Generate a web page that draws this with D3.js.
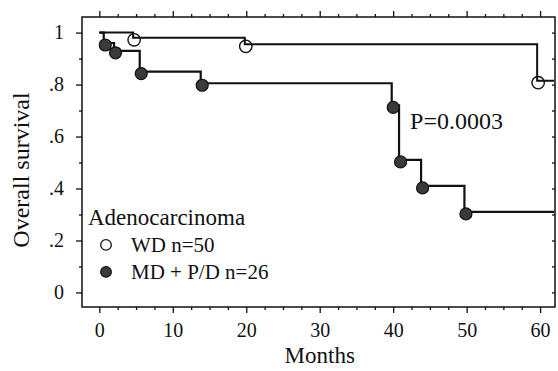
<!DOCTYPE html>
<html>
<head>
<meta charset="utf-8">
<script src="https://cdn.jsdelivr.net/npm/d3@7"></script>
<style>
  body { margin: 0; background: #fff; }
  svg { display: block; font-family: "Liberation Serif", "Times New Roman", serif; }
</style>
</head>
<body>
<script>
"use strict";

// Kaplan-Meier steps
const wdTimes = [0, 4.6, 19.8, 59.6, 61.9];
const wdSurv = [1, 0.98, 0.955, 0.815, 0.815];
const wdEvents = [4.6, 19.8, 59.6];

const mdTimes = [0, 0.6, 2, 5.5, 13.8, 39.8, 40.8, 43.8, 49.7, 61.9];
const mdSurv = [1, 0.96, 0.93, 0.85, 0.805, 0.72, 0.51, 0.41, 0.31, 0.31];
const mdEvents = [0.6, 2, 5.5, 13.8, 39.8, 40.8, 43.8, 49.7];

const xTicks = [0, 10, 20, 30, 40, 50, 60];
const yTicks = [0, 0.2, 0.4, 0.6, 0.8, 1];
const yTickLabels = ["0", ".2", ".4", ".6", ".8", "1"];

const legendTitle = "Adenocarcinoma";
const legendLabels = ["WD n=50", "MD + P/D n=26"];
const pText = "P=0.0003";

const width = 558, height = 371;
const margin = { top: 17, right: 3, bottom: 64, left: 82 };
const innerW = width - margin.left - margin.right;
const innerH = height - margin.top - margin.bottom;

const svg = d3.select("body").append("svg")
  .attr("width", width)
  .attr("height", height);

const g = svg.append("g")
  .attr("transform", `translate(${margin.left},${margin.top})`);

const x = d3.scaleLinear().domain([-2.36, 62.03]).range([0, innerW]);
const y = d3.scaleLinear().domain([-0.056, 1.06]).range([innerH, 0]);

const minorX = d3.range(0, 62.5, 2.5).filter(v => v % 10 !== 0);
const minorY = d3.range(0.1, 1.01, 0.2);

// frame
g.append("rect")
  .attr("width", innerW)
  .attr("height", innerH)
  .attr("fill", "none")
  .attr("stroke", "#111")
  .attr("stroke-width", 1.5);

function styleAxis(sel) {
  sel.select(".domain").remove();
  sel.selectAll("line").attr("stroke", "#111").attr("stroke-width", 1.3);
  sel.selectAll("text")
    .attr("fill", "#111")
    .style("font-size", "20px")
    .style("font-family", "'Liberation Serif', serif");
}

// bottom
g.append("g")
  .attr("transform", `translate(0,${innerH})`)
  .call(d3.axisBottom(x).tickValues(xTicks).tickSize(6).tickPadding(10).tickFormat(d3.format("d")))
  .call(styleAxis);
g.append("g")
  .attr("transform", `translate(0,${innerH})`)
  .call(d3.axisBottom(x).tickValues(minorX).tickSize(3).tickFormat(""))
  .call(styleAxis);

// top
g.append("g")
  .call(d3.axisTop(x).tickValues(xTicks).tickSize(6).tickFormat(""))
  .call(styleAxis);
g.append("g")
  .call(d3.axisTop(x).tickValues(minorX).tickSize(3).tickFormat(""))
  .call(styleAxis);

// left
g.append("g")
  .call(d3.axisLeft(y).tickValues(yTicks).tickSize(6).tickPadding(12)
    .tickFormat((d, i) => yTickLabels[i]))
  .call(styleAxis);
g.append("g")
  .call(d3.axisLeft(y).tickValues(minorY).tickSize(3).tickFormat(""))
  .call(styleAxis);

// right
g.append("g")
  .attr("transform", `translate(${innerW},0)`)
  .call(d3.axisLeft(y).tickValues(yTicks.concat(minorY)).tickSize(3).tickFormat(""))
  .call(styleAxis);

// curves
const line = d3.line()
  .x(d => x(d[0]))
  .y(d => y(d[1]))
  .curve(d3.curveStepAfter);

const wdData = wdTimes.map((t, i) => [t, wdSurv[i]]);
const mdData = mdTimes.map((t, i) => [t, mdSurv[i]]);

g.append("path")
  .datum(wdData)
  .attr("d", line)
  .attr("fill", "none")
  .attr("stroke", "#111")
  .attr("stroke-width", 2);

g.append("path")
  .datum(mdData)
  .attr("d", line)
  .attr("fill", "none")
  .attr("stroke", "#111")
  .attr("stroke-width", 2.2);

const survAt = (times, surv, t) => surv[d3.bisectRight(times, t) - 1];

g.append("g")
  .attr("transform", "translate(1.5,2)")
  .selectAll("circle")
  .data(mdEvents)
  .join("circle")
  .attr("cx", d => x(d))
  .attr("cy", d => y(survAt(mdTimes, mdSurv, d)))
  .attr("r", 6)
  .attr("fill", "#3a3a3a")
  .attr("stroke", "#111")
  .attr("stroke-width", 1.2);

g.append("g")
  .attr("transform", "translate(1,2)")
  .selectAll("circle")
  .data(wdEvents)
  .join("circle")
  .attr("cx", d => x(d))
  .attr("cy", d => y(survAt(wdTimes, wdSurv, d)))
  .attr("r", 6.2)
  .attr("fill", "none")
  .attr("stroke", "#111")
  .attr("stroke-width", 1.4);

// p value
g.append("text")
  .attr("x", x(42.3))
  .attr("y", y(0.63))
  .attr("fill", "#111")
  .style("font-size", "24px")
  .text(pText);

// legend
const legend = g.append("g").attr("transform", `translate(6,${y(0.26)})`);
legend.append("text")
  .attr("x", 0)
  .attr("y", 0)
  .attr("fill", "#111")
  .style("font-size", "23px")
  .text(legendTitle);

const legendItems = legend.selectAll("g.item")
  .data(legendLabels)
  .join("g")
  .attr("class", "item")
  .attr("transform", (d, i) => `translate(0,${27 + i * 27})`);

legendItems.append("circle")
  .attr("cx", 18)
  .attr("cy", -7)
  .attr("r", 5.3)
  .attr("fill", (d, i) => i === 0 ? "#fff" : "#3a3a3a")
  .attr("stroke", "#111")
  .attr("stroke-width", 1.3);

legendItems.append("text")
  .attr("x", 43)
  .attr("y", 0)
  .attr("fill", "#111")
  .style("font-size", "21px")
  .text(d => d);

// axis titles
svg.append("text")
  .attr("x", margin.left + x(30))
  .attr("y", 363)
  .attr("text-anchor", "middle")
  .attr("fill", "#111")
  .style("font-size", "23px")
  .text("Months");

svg.append("text")
  .attr("transform", `translate(29,170) rotate(-90)`)
  .attr("text-anchor", "middle")
  .attr("fill", "#111")
  .style("font-size", "24px")
  .text("Overall survival");
</script>
</body>
</html>
